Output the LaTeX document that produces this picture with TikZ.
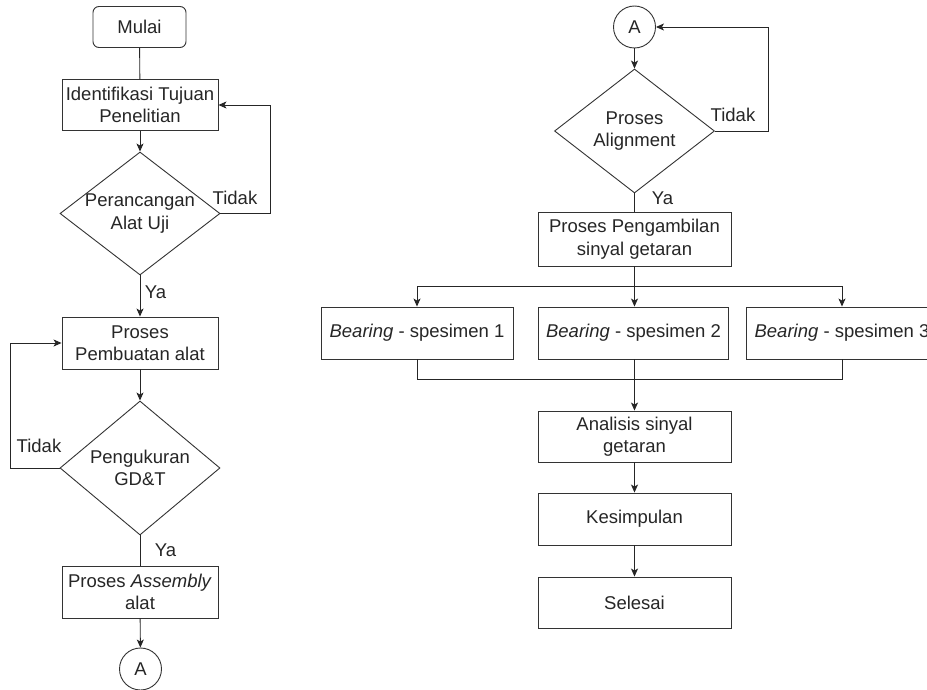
\documentclass[tikz,border=0pt]{standalone}
\usepackage{fontspec}
\setmainfont{Liberation Sans}
\usetikzlibrary{shapes.geometric,arrows.meta}
\begin{document}
\begin{tikzpicture}[x=1pt,y=-1pt,
  font=\fontsize{18.5}{22.5}\selectfont,
  line width=0.9pt,
  every node/.style={text=black!85},
  box/.style={draw=black!80, rectangle, inner sep=0pt, align=center},
  startbox/.style={box, rounded corners=6pt, minimum width=93pt, minimum height=41pt},
  proc/.style={box, minimum width=156pt, minimum height=51pt},
  wproc/.style={box, minimum width=193pt, minimum height=52pt},
  bproc/.style={box, minimum width=192pt, minimum height=52pt},
  dia/.style={draw=black!80, diamond, inner sep=0pt, minimum width=160pt},
  conn/.style={draw=black!80, circle, inner sep=0pt, minimum size=42pt},
  lbl/.style={inner sep=0pt},
  line/.style={draw=black!85},
  arr/.style={line, -{Stealth[length=8pt,width=7pt,inset=2pt]}}
]
\useasboundingbox[fill=white] (0,0) rectangle (927,690);

% left column
\node[startbox] (mulai) at (139.5,27) {Mulai};
\node[proc] (ident) at (140,105) {Identifikasi Tujuan\\Penelitian};
\node[dia, minimum height=123pt, label={[align=center,text=black!85]center:Perancangan\\Alat Uji}] (d1) at (140,213.5) {};
\node[proc, minimum height=52pt] (pemb) at (140,343) {Proses\\Pembuatan alat};
\node[dia, minimum height=134pt, label={[align=center,text=black!85]center:Pengukuran\\GD\&T}] (d2) at (140,468) {};
\node[proc, minimum height=52pt] (asm) at (140,592) {Proses \textit{Assembly}\\alat};
\node[conn] (a1) at (140.5,669) {A};

\node[lbl] (t1) at (235,198) {Tidak};
\node[lbl] (y1) at (155.5,292) {Ya};
\node[lbl] (t2) at (39,446) {Tidak};
\node[lbl] (y2) at (165.5,550) {Ya};

\draw[line] (mulai) -- (ident);
\draw[arr] (ident) -- (d1);
\draw[arr] (d1.east) -- ++(50,0) |- (ident.east);
\draw[arr] (d1.south) -- (pemb.north);
\draw[arr] (pemb) -- (d2);
\draw[arr] (d2.west) -- ++(-49,0) |- (pemb.west);
\draw[line] (d2.south) -- (asm.north);
\draw[arr] (asm) -- (a1);

% right column
\node[conn] (a2) at (634.5,27) {A};
\node[dia, minimum height=124pt, label={[align=center,text=black!85]center:Proses\\Alignment}] (d3) at (634.5,131) {};
\node[wproc, minimum height=54pt] (amb) at (634.5,239) {Proses Pengambilan\\sinyal getaran};
\node[bproc] (b1) at (417,333) {\textit{Bearing} - spesimen 1};
\node[bproc, minimum width=190pt] (b2) at (633.5,333) {\textit{Bearing} - spesimen 2};
\node[bproc] (b3) at (842,333) {\textit{Bearing} - spesimen 3};
\node[wproc, minimum height=51pt] (an) at (634.5,436.5) {Analisis sinyal\\getaran};
\node[wproc] (kes) at (634.5,519) {Kesimpulan};
\node[wproc, minimum height=51pt] (sel) at (634.5,602.5) {Selesai};

\node[lbl] (t3) at (733,115) {Tidak};
\node[lbl] (y3) at (662.5,198) {Ya};

\coordinate (br) at (634.5,286);
\coordinate (mg) at (634.5,379);

\draw[arr] (a2) -- (d3);
\draw[arr] (d3.east) -- ++(53,0) |- (a2.east);
\draw[line] (d3.south) -- (amb.north);
\draw[line] (amb.south) -- (br);
\draw[arr] (br) -| (b1.north);
\draw[arr] (br) -| (b3.north);
\draw[arr] (br) -- (br |- b2.north);
\draw[line] (b1.south) |- (mg);
\draw[line] (b3.south) |- (mg);
\draw[line] (b2.south -| mg) -- (mg);
\draw[arr] (mg) -- (an.north);
\draw[arr] (an) -- (kes);
\draw[arr] (kes) -- (sel);
\end{tikzpicture}
\end{document}
